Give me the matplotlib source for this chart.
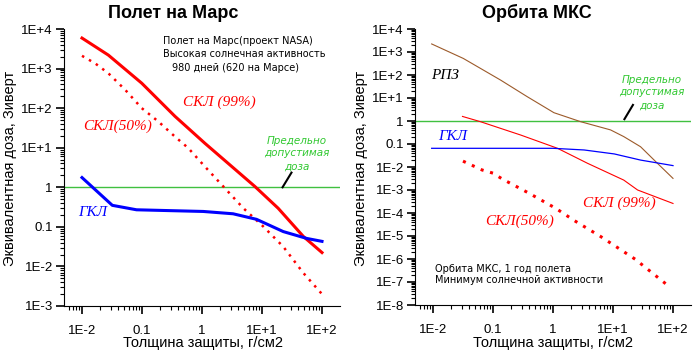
import numpy as np
import matplotlib
matplotlib.use("Agg")
import matplotlib.pyplot as plt
from matplotlib.ticker import FixedLocator, LogLocator, NullFormatter

plt.rcParams['font.family'] = ['Liberation Sans', 'DejaVu Sans']

# --- data ---
# left panel: flight to Mars
mars_skl99_x = [0.01, 0.0275, 0.099, 0.355, 1.12, 7.6, 18.6, 49, 100]
mars_skl99_y = [5900, 2190, 427, 62, 12.9, 1.05, 0.295, 0.057, 0.0224]
mars_skl50_x = [0.01, 0.0166, 0.0275, 0.0525, 0.099, 0.187, 0.355, 0.59, 1.05, 2.26, 4.9, 10.5, 22.6, 49, 100]
mars_skl50_y = [2100, 1350, 760, 290, 100, 46, 19, 9.8, 3.7, 1.05, 0.295, 0.102, 0.0316, 0.0068, 0.002]
mars_gkl_x = [0.01, 0.032, 0.081, 0.295, 1.05, 3.3, 8.1, 22.6, 55.6, 100]
mars_gkl_y = [1.76, 0.35, 0.27, 0.257, 0.245, 0.214, 0.155, 0.076, 0.051, 0.043]

# right panel: ISS orbit
iss_rpz_x = [0.0095, 0.032, 0.134, 0.37, 1.035, 2.9, 9.1, 15.1, 28.8, 55, 100]
iss_rpz_y = [2240, 525, 60, 11.5, 2.3, 0.93, 0.41, 0.21, 0.076, 0.0145, 0.0032]
iss_skl99_x = [0.031, 0.062, 0.29, 1.19, 3.76, 15.1, 25.7, 100]
iss_skl99_y = [1.58, 0.93, 0.245, 0.065, 0.0145, 0.0027, 0.001, 0.00026]
iss_gkl_x = [0.0095, 1.0, 3.3, 10.5, 28.8, 100]
iss_gkl_y = [0.065, 0.065, 0.055, 0.037, 0.02, 0.0115]
iss_skl50_x = [0.0316, 0.066, 0.1, 0.143, 0.4, 1.11, 2.26, 6.3, 23.4, 83]
iss_skl50_y = [0.018, 0.0074, 0.0054, 0.003, 0.00072, 1.6e-4, 4.7e-5, 9.3e-6, 9.8e-7, 6.9e-8]

limit_dose = 1.0

x_ticks = [0.01, 0.1, 1, 10, 100]
x_labels = ['1E-2', '0.1', '1', '1E+1', '1E+2']
mars_y_ticks = [1e4, 1e3, 1e2, 1e1, 1, 0.1, 1e-2, 1e-3]
mars_y_labels = ['1E+4', '1E+3', '1E+2', '1E+1', '1', '0.1', '1E-2', '1E-3']
iss_y_ticks = [1e4, 1e3, 1e2, 1e1, 1, 0.1, 1e-2, 1e-3, 1e-4, 1e-5, 1e-6, 1e-7, 1e-8]
iss_y_labels = ['1E+4', '1E+3', '1E+2', '1E+1', '1', '0.1', '1E-2', '1E-3', '1E-4',
                '1E-5', '1E-6', '1E-7', '1E-8']

RED = '#ff0000'
BLUE = '#0000ff'
BROWN = '#9c5a2a'
GREEN_LINE = '#40c040'
GREEN_TXT = '#30c830'

fig = plt.figure(figsize=(6.96, 3.57), dpi=100)
ax1 = fig.add_axes([64/696, 51/357, 276/696, 277/357])
ax2 = fig.add_axes([415/696, 52/357, 276/696, 276/357])


def setup(ax, yt, yl, ylim):
    ax.set_xscale('log')
    ax.set_yscale('log')
    ax.set_xlim(10**-2.3, 10**2.3)
    ax.set_ylim(*ylim)
    ax.spines['top'].set_visible(False)
    ax.spines['right'].set_visible(False)
    ax.xaxis.set_major_locator(FixedLocator(x_ticks))
    ax.set_xticklabels(x_labels)
    ax.yaxis.set_major_locator(FixedLocator(yt))
    ax.set_yticklabels(yl)
    ax.xaxis.set_minor_locator(LogLocator(base=10, subs=np.arange(2, 10)))
    ax.yaxis.set_minor_locator(LogLocator(base=10, subs=np.arange(2, 10), numticks=30))
    ax.xaxis.set_minor_formatter(NullFormatter())
    ax.yaxis.set_minor_formatter(NullFormatter())
    ax.tick_params(which='major', length=6, width=1.2, labelsize=9.5, pad=2)
    ax.tick_params(axis='x', which='major', pad=8)
    ax.tick_params(which='minor', length=3, width=0.8)
    ax.patch.set_alpha(0)


setup(ax1, mars_y_ticks, mars_y_labels, (1e-3, 1e4))
setup(ax2, iss_y_ticks, iss_y_labels, (1e-8, 1e4))

# left panel
ax1.axhline(limit_dose, color=GREEN_LINE, lw=1)
ax1.plot(mars_skl99_x, mars_skl99_y, color=RED, lw=2.2)
ax1.plot(mars_skl50_x, mars_skl50_y, color=RED, lw=1.8, linestyle=(0, (1, 2.2)))
ax1.plot(mars_gkl_x, mars_gkl_y, color=BLUE, lw=2.2)
ax1.plot([22, 31], [1.0, 2.35], color='black', lw=1.5)

ax1.text(0.359, 0.955, 'Полет на Марс(проект NASA)', transform=ax1.transAxes,
         fontsize=7, va='center', family='DejaVu Sans')
ax1.text(0.359, 0.908, 'Высокая солнечная активность', transform=ax1.transAxes,
         fontsize=7, va='center', family='DejaVu Sans')
ax1.text(0.391, 0.861, '980 дней (620 на Марсе)', transform=ax1.transAxes,
         fontsize=7, va='center', family='DejaVu Sans')
ax1.text(0.431, 0.735, 'СКЛ (99%)', transform=ax1.transAxes, color=RED,
         fontsize=11, va='center', family='Liberation Serif', style='italic')
ax1.text(0.069, 0.65, 'СКЛ(50%)', transform=ax1.transAxes, color=RED,
         fontsize=11, va='center', family='Liberation Serif', style='italic')
ax1.text(0.051, 0.338, 'ГКЛ', transform=ax1.transAxes, color=BLUE,
         fontsize=11, va='center', family='Liberation Serif', style='italic')
ax1.text(0.844, 0.551, 'Предельно\nдопустимая\nдоза', transform=ax1.transAxes,
         color=GREEN_TXT, fontsize=7.5, ha='center', va='center', style='italic',
         linespacing=1.35, family='DejaVu Sans')

# right panel
ax2.axhline(limit_dose, color=GREEN_LINE, lw=1)
ax2.plot(iss_rpz_x, iss_rpz_y, color=BROWN, lw=0.8)
ax2.plot(iss_skl99_x, iss_skl99_y, color=RED, lw=0.8)
ax2.plot(iss_gkl_x, iss_gkl_y, color=BLUE, lw=0.9)
ax2.plot(iss_skl50_x, iss_skl50_y, color=RED, lw=2.2, linestyle=(0, (1, 2.2)))
ax2.plot([15.5, 21.5], [1.2, 5.0], color='black', lw=1.5)

ax2.text(0.058, 0.833, 'РПЗ', transform=ax2.transAxes, color='black',
         fontsize=11, va='center', family='Liberation Serif', style='italic')
ax2.text(0.083, 0.609, 'ГКЛ', transform=ax2.transAxes, color=BLUE,
         fontsize=11, va='center', family='Liberation Serif', style='italic')
ax2.text(0.859, 0.77, 'Предельно\nдопустимая\nдоза', transform=ax2.transAxes,
         color=GREEN_TXT, fontsize=7.5, ha='center', va='center', style='italic',
         linespacing=1.35, family='DejaVu Sans')
ax2.text(0.609, 0.368, 'СКЛ (99%)', transform=ax2.transAxes, color=RED,
         fontsize=11, va='center', family='Liberation Serif', style='italic')
ax2.text(0.254, 0.303, 'СКЛ(50%)', transform=ax2.transAxes, color=RED,
         fontsize=11, va='center', family='Liberation Serif', style='italic')
ax2.text(0.072, 0.132, 'Орбита МКС, 1 год полета', transform=ax2.transAxes,
         fontsize=7, va='center', family='DejaVu Sans')
ax2.text(0.072, 0.089, 'Минимум солнечной активности', transform=ax2.transAxes,
         fontsize=7, va='center', family='DejaVu Sans')

# titles and axis labels
fig.text(173/696, 1 - 18/357, 'Полет на Марс', ha='center', va='baseline',
         fontsize=13, fontweight='bold')
fig.text(537/696, 1 - 18/357, 'Орбита МКС', ha='center', va='baseline',
         fontsize=13, fontweight='bold')
fig.text(203/696, 1 - 347/357, 'Толщина защиты, г/см2', ha='center', va='baseline',
         fontsize=10.5)
fig.text(553/696, 1 - 347/357, 'Толщина защиты, г/см2', ha='center', va='baseline',
         fontsize=10.5)
fig.text(10/696, 1 - 168/357, 'Эквивалентная доза, Зиверт', ha='center', va='center',
         rotation=90, fontsize=10.5)
fig.text(361/696, 1 - 168/357, 'Эквивалентная доза, Зиверт', ha='center', va='center',
         rotation=90, fontsize=10.5)

fig.savefig('out.png', dpi=100)
